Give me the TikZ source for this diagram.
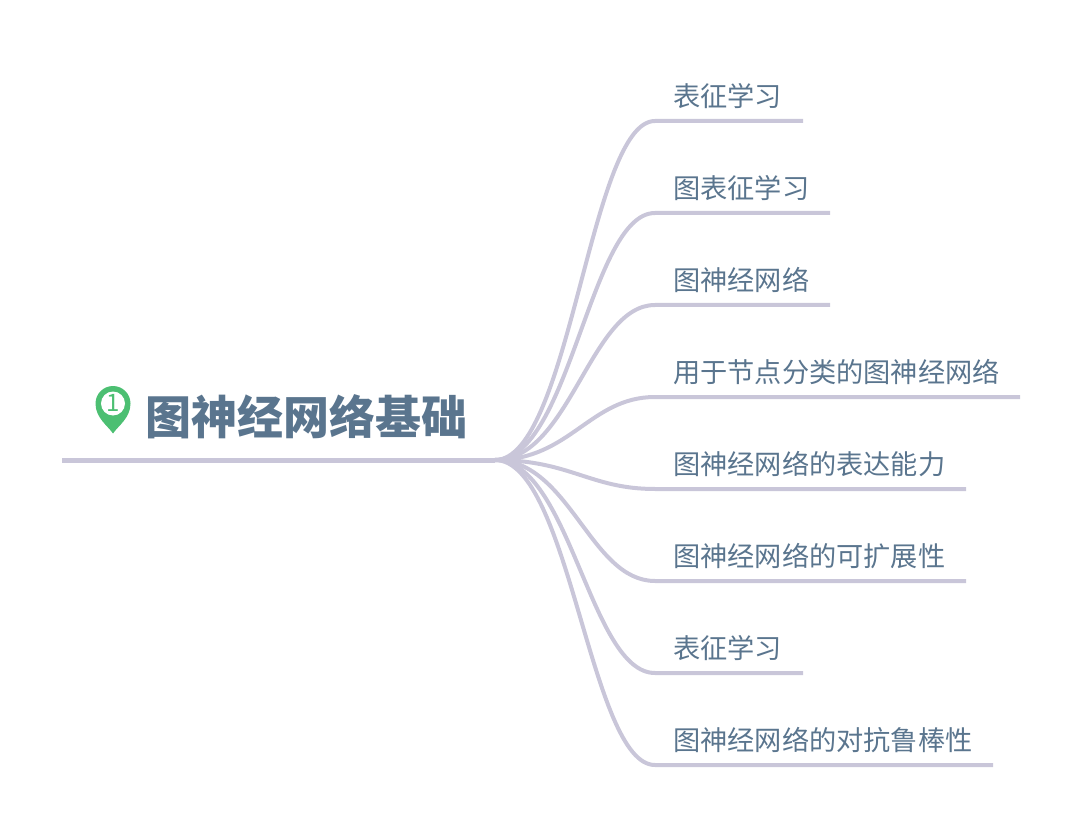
\documentclass[tikz,border=0pt]{standalone}
\usepackage{fontspec}
\setmainfont{Noto Sans CJK SC}
\usepackage{xcolor}
\usetikzlibrary{positioning, calc}
\definecolor{linkc}{HTML}{C9C6D9}
\definecolor{textc}{HTML}{5A758E}
\definecolor{pinc}{HTML}{4CBF72}

\begin{document}
\begin{tikzpicture}[x=1pt, y=-1pt,
  leaf/.style={anchor=west, inner sep=0pt, text=textc, font=\fontsize{27.2}{27.2}\selectfont},
  rootn/.style={anchor=west, inner sep=0pt, text=textc, font=\fontsize{46}{46}\selectfont\bfseries},
  lnk/.style={draw=linkc, line width=4pt},
]
  \useasboundingbox (0,0) rectangle (1080,829);
  \coordinate (R0) at (62,460);
  \coordinate (H) at (495,460);
  \node[rootn] (T) at (145,417) {图神经网络基础};
  \draw[draw=linkc, line width=5pt] (R0) -- (H);
  % pin
  \fill[pinc] (113,433.5) .. controls (108,426) and (95.5,418) .. (95.5,403.5)
    arc[start angle=180, end angle=360, radius=17.5]
    .. controls (130.5,418) and (118,426) .. (113,433.5) -- cycle;
  \fill[white] (113,403.5) circle[radius=12];
  \node[inner sep=0pt, text=pinc, font=\fontsize{24}{24}\selectfont] (P) at (113,402.5) {1};
  \foreach \xn/\xtxt/\xend in {%
    0/{表征学习}/803,%
    1/{图表征学习}/830,%
    2/{图神经网络}/830,%
    3/{用于节点分类的图神经网络}/1020,%
    4/{图神经网络的表达能力}/966,%
    5/{图神经网络的可扩展性}/966,%
    6/{表征学习}/803,%
    7/{图神经网络的对抗鲁棒性}/993%
  } {
    \pgfmathsetmacro{\xy}{121+\xn*92}
    \node[leaf] (L\xn) at (673,\xy-25) {\xtxt};
    \coordinate (A\xn) at (\xend,\xy);
    \coordinate (B\xn) at (655,\xy);
    \draw[lnk] (H) .. controls (570,460) and (590,\xy) .. (B\xn) -- (A\xn);
  }
\end{tikzpicture}
\end{document}
